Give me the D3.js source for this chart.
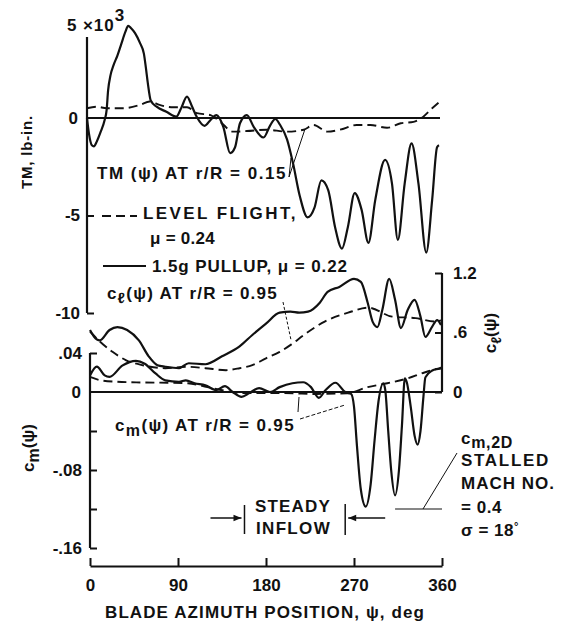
<!DOCTYPE html>
<html><head><meta charset="utf-8">
<script src="https://cdn.jsdelivr.net/npm/d3@7"></script>
<style>
body{margin:0;background:#fff;}
text{font-family:"Liberation Sans",Arial,Helvetica,sans-serif;font-weight:bold;fill:#111;}
</style></head>
<body><svg id="c" width="574" height="625"></svg>
<script>
// ---------- DATA ----------
const azimuthTicks = [0, 90, 180, 270, 360];
const tmTicks = [0, -5, -10];
const cmTicks = [0.04, 0, -0.04, -0.08, -0.12, -0.16];
const cmTickLabels = [".04", "0", "", "-.08", "", "-.16"];
const clTicks = [0, 0.6, 1.2];
const clTickLabels = ["0", ".6", "1.2"];

// TM(psi) at r/R=0.15, 1.5g pullup (x10^3 lb-in.)
const tmPullupPsi = [0,2,5,7,10,14,18,20,21.5,24,27,31,35,39,42,45,49,54,58,60,62,65,71,81,91,96,102,107,112,120,126,132,139,146,151,156,163,170,180,187,192,197,204,210,217,225,232,239,246,253,260,266,273,280,287,294,304,311,317,324,331,338,346,352,357,359];
const tmPullup    = [0,-0.8,-1.4,-1.45,-1.2,-0.7,-0.1,0.4,1.4,2.2,2.7,3.2,3.8,4.4,4.72,4.6,4.35,3.85,3.3,2.6,1.8,0.9,0.58,0.32,0.07,0.5,1.1,0.6,0.05,-0.4,-0.1,0.15,-0.45,-1.8,-1.5,-0.27,0.15,-0.45,-1.0,-0.36,-0.05,-0.36,-1.1,-2.3,-4.0,-5.1,-4.6,-3.2,-3.7,-5.6,-6.7,-5.6,-3.85,-4.7,-6.4,-4.2,-2.15,-3.35,-6.25,-3.35,-1.3,-3.35,-6.9,-4.2,-1.5,-1.4];
// TM(psi) level flight
const tmLevelPsi = [0,10,20,37,54,64,74,88,102,112,126,136,149,163,183,204,221,231,245,258,275,289,306,320,333,343,352,360];
const tmLevel    = [0.5,0.58,0.5,0.5,0.67,0.85,0.67,0.55,0.55,0.25,0.15,-0.2,-0.7,-0.67,-0.6,-0.7,-0.6,-0.36,-0.7,-0.6,-0.36,-0.36,-0.5,-0.27,-0.2,0.07,0.5,0.85];

// c_l(psi) at r/R=0.95
const clPullupPsi = [0,4,10,20,28,38,50,60,69,77,91,101,118,135,153,166,180,194,205,214,223,235,243,255,270,277,284,289,294,299,306,312,318,325,332,338,343,350,355,359];
const clPullup    = [0.625,0.56,0.52,0.625,0.655,0.625,0.52,0.36,0.27,0.255,0.24,0.29,0.28,0.36,0.46,0.575,0.69,0.8,0.81,0.8,0.81,0.9,1.01,1.06,1.14,1.11,0.9,0.71,0.655,0.83,1.14,0.93,0.645,0.83,0.93,0.76,0.555,0.66,0.725,0.675];
const clLevelPsi = [0,10,23,37,54,77,98,118,139,153,166,180,194,206,218,240,264,285,309,333,353,360];
const clLevel    = [0.61,0.51,0.405,0.32,0.27,0.24,0.255,0.24,0.22,0.24,0.27,0.34,0.405,0.48,0.57,0.71,0.8,0.85,0.76,0.745,0.71,0.725];

// c_m(psi) at r/R=0.95
const cmPullupPsi = [0,7,15,20,33,47,56,67,77,91,98,107,118,129,138,146,155,163,173,184,194,207,218,226,234,241,251,261,267,270,273,277,282,287,291,295,300,302,305,308,312,316,319,322,324,328,332,335,338,341,343,350,357,360];
const cmPullup    = [0.017,0.026,0.017,0.0155,0.027,0.032,0.029,0.019,0.012,0.0105,0.012,0.009,0.007,0.002,0.006,0.0,-0.005,-0.001,0.004,0.0,0.005,0.009,0.010,0.005,-0.006,0.002,0.0095,0.0,-0.002,-0.015,-0.055,-0.1,-0.1175,-0.095,-0.05,-0.01,0.009,0.002,-0.04,-0.08,-0.106,-0.08,-0.035,0.014,0.01,-0.015,-0.045,-0.054,-0.04,-0.005,0.015,0.022,0.024,0.025];
const cmLevelPsi = [0,11,28,52,79,100,120,134,154,182,208,229,263,284,304,325,342,358,360];
const cmLevel    = [0.0155,0.012,0.0105,0.0098,0.0095,0.009,0.005,0.002,-0.001,-0.001,-0.0013,-0.002,-0.0013,0.005,0.009,0.014,0.02,0.024,0.024];

// steady inflow region and 2D stall level
const steadyInflow = [158, 261];
const cm2DStall = -0.12;

// ---------- DRAW ----------
const svg = d3.select("#c");
const xTop = d3.scaleLinear().domain([0,360]).range([87,440]);
const xBot = d3.scaleLinear().domain([0,360]).range([90,442]);
const yTM = d3.scaleLinear().domain([-10,5]).range([313,20.5]);
const yCm = d3.scaleLinear().domain([-0.16,0.04]).range([548,353]);
const yCl = d3.scaleLinear().domain([0,1.2]).range([392,273]);

const ink = "#111";
function zip(a,b){return a.map((v,i)=>[v,b[i]]);}
function curve(xs, ys, x, y, dashed, w){
  svg.append("path")
    .attr("d", d3.line().x(d=>x(d[0])).y(d=>y(d[1])).curve(d3.curveMonotoneX)(zip(xs,ys)))
    .attr("fill","none").attr("stroke",ink)
    .attr("stroke-width", w || (dashed?1.9:2.2))
    .attr("stroke-dasharray", dashed?"9,5":null)
    .attr("stroke-linejoin","round");
}
function line(x1,y1,x2,y2,w,dash){
  svg.append("line").attr("x1",x1).attr("y1",y1).attr("x2",x2).attr("y2",y2)
    .attr("stroke",ink).attr("stroke-width",w||1).attr("stroke-dasharray",dash||null);
}
// stretch a text to a target width via letter-spacing
function fit(sel, w){
  sel.attr("letter-spacing",0);
  const L = sel.node().getComputedTextLength();
  const n = sel.text().length;
  sel.attr("letter-spacing", ((w - L) / n).toFixed(2));
  return sel;
}
function styleTicks(g, fs){
  g.selectAll(".tick line").attr("stroke",ink).attr("stroke-width",2);
  g.selectAll(".tick text").attr("font-size",fs||16)
    .style("font-family","Liberation Sans, Arial, sans-serif").style("font-weight","bold").attr("fill",ink);
}

// --- TM axis ---
const tmAxis = svg.append("g").attr("transform",`translate(${xTop(0)},0)`)
  .call(d3.axisLeft(yTM).tickValues([-5,-10]).tickSize(-7).tickPadding(7).tickFormat(d=>d));
tmAxis.select(".domain").remove();
styleTicks(tmAxis, 17);
line(xTop(0), 37, xTop(0), yTM(-10), 2.2);
line(xTop(0), yTM(0), xTop(360), yTM(0), 2);
svg.append("text").attr("x", xTop(0)-9).attr("y", yTM(0)+6).attr("text-anchor","end").attr("font-size",17).text("0");
const top5 = svg.append("text").attr("x", 67).attr("y", 31).attr("font-size",17);
top5.append("tspan").text("5 \u00d710");
top5.append("tspan").attr("dy",-10).attr("font-size",17).text("3");
fit(top5, 58);

// rotated TM label
fit(svg.append("text").attr("transform","translate(32,152) rotate(-90)").attr("text-anchor","middle").attr("font-size",15).text("TM, lb-in."), 74);

// --- lower panel axes ---
const cmAxis = svg.append("g").attr("transform",`translate(${xBot(0)},0)`)
  .call(d3.axisLeft(yCm).tickValues(cmTicks.filter(d=>d!==0)).tickSize(-7).tickPadding(8)
    .tickFormat(d=>cmTickLabels[cmTicks.indexOf(d)]));
cmAxis.select(".domain").remove();
styleTicks(cmAxis, 17);
line(xBot(0), yCm(0.04), xBot(0), yCm(-0.16), 2.2);
line(xBot(0), yCm(0), xBot(360), yCm(0), 2);
svg.append("text").attr("x", xBot(0)-9).attr("y", yCm(0)+6).attr("text-anchor","end").attr("font-size",17).text("0");

const clAxis = svg.append("g").attr("transform",`translate(${xBot(360)},0)`)
  .call(d3.axisRight(yCl).tickValues(clTicks).tickSize(-7).tickPadding(11)
    .tickFormat(d=>clTickLabels[clTicks.indexOf(d)]));
clAxis.select(".domain").remove();
styleTicks(clAxis, 17);
line(xBot(360), yCl(1.2), xBot(360), yCl(0), 2.2);

// rotated c labels
const cmLab = svg.append("text").attr("transform","translate(34,448) rotate(-90)").attr("text-anchor","middle").attr("font-size",17);
cmLab.append("tspan").text("c");
cmLab.append("tspan").attr("dy",5).attr("font-size",16).text("m");
cmLab.append("tspan").attr("dy",-5).text("(\u03c8)");
const clLab = svg.append("text").attr("transform","translate(496,333) rotate(-90)").attr("text-anchor","middle").attr("font-size",17);
clLab.append("tspan").text("c");
clLab.append("tspan").attr("dy",5).attr("font-size",14).text("\u2113");
clLab.append("tspan").attr("dy",-5).text("(\u03c8)");

// --- bottom azimuth axis ---
const yBase = 566;
const xAxis = svg.append("g").attr("transform",`translate(0,${yBase})`)
  .call(d3.axisBottom(xBot).tickValues(azimuthTicks).tickSize(-8).tickPadding(13).tickSizeOuter(0));
xAxis.select(".domain").attr("stroke",ink).attr("stroke-width",2);
styleTicks(xAxis, 17);
fit(svg.append("text").attr("x",105).attr("y",618).attr("font-size",17).text("BLADE AZIMUTH POSITION, \u03c8, deg"), 320);

// --- curves ---
curve(tmLevelPsi, tmLevel, xTop, yTM, true);
curve(tmPullupPsi, tmPullup, xTop, yTM, false);
curve(clLevelPsi, clLevel, xBot, yCl, true);
curve(clPullupPsi, clPullup, xBot, yCl, false);
curve(cmLevelPsi, cmLevel, xBot, yCm, true);
curve(cmPullupPsi, cmPullup, xBot, yCm, false);

// --- annotations ---
const ann = (x,y,txt,w)=>fit(svg.append("text").attr("x",x).attr("y",y).attr("font-size",17).text(txt), w);
ann(97,179,"TM (\u03c8) AT r/R = 0.15",190);
line(289,177,305,129,1); line(289,177,291,158,1);

line(102,216,137,216,1.9,"9,5");
ann(143,219,"LEVEL FLIGHT,",155);
ann(150,244,"\u03bc = 0.24",65);
line(103,266,146,266,2.2);
ann(152,272,"1.5g PULLUP, \u03bc = 0.22",196);

const clT = svg.append("text").attr("x",107).attr("y",299).attr("font-size",17);
clT.append("tspan").text("c");
clT.append("tspan").attr("dy",4).attr("font-size",15).text("\u2113");
clT.append("tspan").attr("dy",-4).text("(\u03c8) AT r/R = 0.95");
fit(clT, 171);
line(283,302,291,340,1,"3,2");

const cmT = svg.append("text").attr("x",115).attr("y",431).attr("font-size",17);
cmT.append("tspan").text("c");
cmT.append("tspan").attr("dy",5).attr("font-size",16).text("m");
cmT.append("tspan").attr("dy",-5).text("(\u03c8) AT r/R = 0.95");
fit(cmT, 180);
line(300,419,345,405,1,"4,2"); line(298,412,299,397,1);

// steady inflow markers
const sx0 = xBot(steadyInflow[0]), sx1 = xBot(steadyInflow[1]);
const ay = 518;
svg.append("defs").append("marker").attr("id","ah").attr("viewBox","0 0 10 10").attr("refX",10).attr("refY",5)
  .attr("markerWidth",11).attr("markerHeight",8).attr("markerUnits","userSpaceOnUse").attr("orient","auto")
  .append("path").attr("d","M0,1 L10,5 L0,9 Z").attr("fill",ink);
svg.append("line").attr("x1",sx0-34).attr("y1",ay).attr("x2",sx0-3).attr("y2",ay).attr("stroke",ink).attr("stroke-width",1.5).attr("marker-end","url(#ah)");
svg.append("line").attr("x1",sx1+40).attr("y1",ay).attr("x2",sx1+3).attr("y2",ay).attr("stroke",ink).attr("stroke-width",1.5).attr("marker-end","url(#ah)");
line(sx0,505,sx0,534,1.5); line(sx1,504,sx1,535,1.5);
ann(255,512,"STEADY",76);
ann(256,534,"INFLOW",75);

// c_m,2D stalled annotation
line(xBot(312), yCm(cm2DStall), xBot(360), yCm(cm2DStall), 1.2);
line(423, yCm(cm2DStall), 457, 453, 1);
const c2 = svg.append("text").attr("x",461).attr("y",444).attr("font-size",17);
c2.append("tspan").text("c");
c2.append("tspan").attr("dy",4).attr("font-size",16).text("m,2D");
fit(c2, 52);
ann(461,466,"STALLED",89);
ann(461,489,"MACH NO.",94);
ann(461,513,"= 0.4",41);
const sg = svg.append("text").attr("x",461).attr("y",536).attr("font-size",17);
sg.append("tspan").text("\u03c3 = 18");
sg.append("tspan").attr("dy",-6).attr("font-size",11).text("\u00b0");
fit(sg, 58);
</script></body></html>
